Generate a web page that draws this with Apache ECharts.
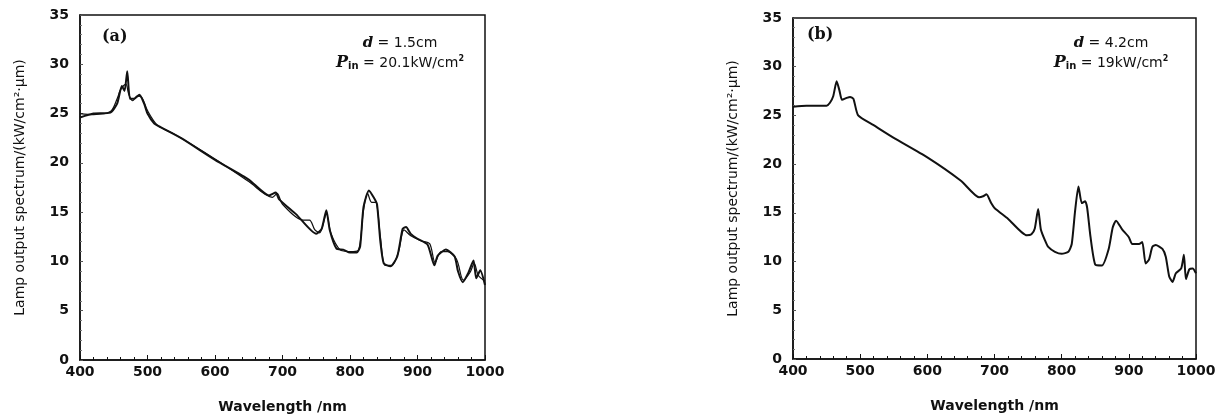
<!DOCTYPE html>
<html>
<head>
<meta charset="utf-8">
<script src="https://cdn.jsdelivr.net/npm/echarts@6/dist/echarts.min.js"></script>
<style>
  html, body { margin: 0; padding: 0; background: #fff; }
  #chart { width: 1227px; height: 419px; }
</style>
</head>
<body>
<div id="chart"></div>
<script>
// (a) d = 1.5 cm, two overlapping curves
let waveA = [400, 420, 445, 455, 462, 466, 470, 474, 480, 488, 495, 500, 510, 520, 550, 600, 650, 680, 690, 695, 720, 750, 758, 765, 770, 780, 790, 800, 810, 815, 820, 828, 835, 840, 845, 850, 860, 870, 878, 883, 890, 900, 915, 925, 930, 942, 955, 960, 967, 975, 983, 987, 993, 1000];
let specA = [24.6, 25.0, 25.1, 26.0, 27.8, 27.3, 29.3, 26.5, 26.5, 26.9, 26.0, 25.0, 24.0, 23.6, 22.5, 20.3, 18.3, 16.7, 17.0, 16.3, 14.8, 12.8, 13.3, 15.2, 13.2, 11.3, 11.2, 10.9, 10.9, 11.5, 15.5, 17.2, 16.5, 15.8, 12.0, 9.8, 9.5, 10.5, 13.3, 13.5, 12.8, 12.3, 11.7, 9.6, 10.6, 11.2, 10.5, 9.0, 7.9, 8.8, 10.1, 8.3, 9.1, 7.6];
let waveA2 = [400, 420, 445, 455, 460, 468, 472, 478, 485, 492, 500, 515, 540, 600, 650, 685, 692, 700, 730, 740, 748, 755, 765, 772, 785, 800, 812, 820, 826, 832, 838, 845, 852, 862, 872, 880, 890, 905, 918, 926, 935, 945, 958, 968, 978, 984, 990, 1000];
let specA2 = [25.0, 24.9, 25.2, 26.5, 27.4, 28.0, 27.0, 26.3, 26.8, 26.6, 25.3, 23.8, 22.9, 20.4, 18.1, 16.5, 16.9, 15.8, 14.2, 14.2, 13.2, 12.9, 14.8, 12.8, 11.2, 11.0, 11.1, 15.2, 16.9, 16.0, 16.0, 12.5, 9.6, 9.6, 11.0, 13.2, 12.6, 12.1, 11.8, 9.9, 11.0, 11.0, 10.2, 8.1, 8.9, 9.8, 8.6, 8.0];

// (b) d = 4.2 cm
let waveB = [400, 420, 450, 455, 460, 465, 469, 473, 480, 485, 490, 497, 520, 550, 600, 650, 677, 683, 688, 695, 700, 720, 748, 755, 760, 765, 769, 775, 780, 790, 800, 810, 815, 820, 825, 830, 835, 838, 843, 850, 860, 870, 876, 881, 890, 900, 905, 915, 920, 925, 930, 935, 940, 950, 955, 960, 965, 970, 978, 982, 985, 990, 995, 1000];
let specB = [25.9, 26.0, 26.0, 26.3, 27.0, 28.5, 27.6, 26.6, 26.8, 26.9, 26.7, 25.0, 24.0, 22.7, 20.7, 18.3, 16.6, 16.7, 16.9, 16.0, 15.5, 14.4, 12.7, 12.8, 13.4, 15.4, 13.3, 12.2, 11.5, 11.0, 10.8, 11.0, 11.8, 15.2, 17.7, 16.0, 16.2, 15.5, 12.5, 9.7, 9.6, 11.3, 13.5, 14.2, 13.3, 12.5, 11.8, 11.8, 12.0, 9.8, 10.2, 11.5, 11.7, 11.3, 10.5, 8.5, 7.9, 8.8, 9.3, 10.7, 8.2, 9.2, 9.3, 8.8];

let xTicks = [400, 500, 600, 700, 800, 900, 1000];
let yTicks = [0, 5, 10, 15, 20, 25, 30, 35];

function zip(xs, ys) {
  return xs.map(function (x, i) { return [x, ys[i]]; });
}

var font = "DejaVu Sans";
var labelStyle = { fontFamily: font, fontSize: 14, fontWeight: "bold", color: "#111" };

function xAxisFor(idx) {
  return {
    type: "value",
    gridIndex: idx,
    min: xTicks[0],
    max: xTicks[xTicks.length - 1],
    interval: 100,
    name: "Wavelength /nm",
    nameLocation: "middle",
    nameGap: 40,
    nameTextStyle: { fontFamily: font, fontSize: 14, fontWeight: "bold", color: "#111" },
    axisLine: { lineStyle: { color: "#111", width: 1.5 } },
    axisTick: { inside: true, length: 5, lineStyle: { color: "#111" } },
    minorTick: { show: true, splitNumber: 5, length: 3, lineStyle: { color: "#111" } },
    axisLabel: Object.assign({ margin: 5, formatter: function (v) { return String(v); } }, labelStyle),
    splitLine: { show: false }
  };
}

function yAxisFor(idx) {
  return {
    type: "value",
    gridIndex: idx,
    min: yTicks[0],
    max: yTicks[yTicks.length - 1],
    interval: 5,
    name: "Lamp output spectrum/(kW/cm²·μm)",
    nameLocation: "middle",
    nameGap: 53,
    nameTextStyle: { fontFamily: font, fontSize: 14, color: "#111" },
    axisLine: { lineStyle: { color: "#111", width: 1.5 } },
    axisTick: { inside: true, length: 3, lineStyle: { color: "#555" } },
    minorTick: { show: true, splitNumber: 5, length: 2, lineStyle: { color: "#777" } },
    axisLabel: Object.assign({ margin: 11 }, labelStyle),
    splitLine: { show: false }
  };
}

function annot(tagX, tagY, cx, tag, dval, pval) {
  return [
    {
      type: "text", x: tagX, y: tagY,
      style: { text: tag, font: "bold 16px 'DejaVu Serif'", fill: "#111", textVerticalAlign: "middle" }
    },
    {
      type: "text", x: cx, y: 43,
      style: {
        text: "{i|d}{n| = " + dval + "}",
        align: "center", verticalAlign: "middle",
        rich: {
          i: { fontFamily: "DejaVu Serif", fontStyle: "italic", fontWeight: "bold", fontSize: 15, fill: "#111" },
          n: { fontFamily: font, fontSize: 14, fill: "#111" }
        }
      }
    },
    {
      type: "text", x: cx, y: 63,
      style: {
        text: "{i|P}{s|in}{n| = " + pval + "}{sup|2}",
        align: "center", verticalAlign: "middle",
        rich: {
          i: { fontFamily: "DejaVu Serif", fontStyle: "italic", fontWeight: "bold", fontSize: 16, fill: "#111" },
          s: { fontFamily: font, fontWeight: "bold", fontSize: 10, fill: "#111", padding: [7, 0, 0, 0] },
          n: { fontFamily: font, fontSize: 14, fill: "#111" },
          sup: { fontFamily: font, fontWeight: "bold", fontSize: 8, fill: "#111", padding: [0, 0, 8, 0] }
        }
      }
    }
  ];
}

var myChart = echarts.init(document.getElementById("chart"));

var option = {
  animation: false,
  backgroundColor: "#fff",
  grid: [
    { left: 80, top: 15, width: 405, height: 345, show: true, borderColor: "#111", borderWidth: 1.5 },
    { left: 793, top: 18, width: 403, height: 341, show: true, borderColor: "#111", borderWidth: 1.5 }
  ],
  xAxis: [xAxisFor(0), xAxisFor(1)],
  yAxis: [yAxisFor(0), yAxisFor(1)],
  series: [
    {
      type: "line", xAxisIndex: 0, yAxisIndex: 0, data: zip(waveA2, specA2),
      symbol: "none", smooth: 0.3, lineStyle: { color: "#111", width: 1.2 }
    },
    {
      type: "line", xAxisIndex: 0, yAxisIndex: 0, data: zip(waveA, specA),
      symbol: "none", smooth: 0.2, lineStyle: { color: "#111", width: 2 }
    },
    {
      type: "line", xAxisIndex: 1, yAxisIndex: 1, data: zip(waveB, specB),
      symbol: "none", smooth: 0.2, lineStyle: { color: "#111", width: 2 }
    }
  ],
  graphic: annot(102, 37, 400, "(a)", "1.5cm", "20.1kW/cm")
    .concat(annot(807, 35, 1111, "(b)", "4.2cm", "19kW/cm"))
};

myChart.setOption(option);
</script>
</body>
</html>
